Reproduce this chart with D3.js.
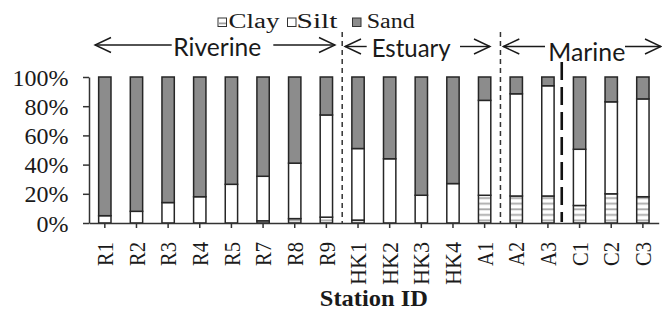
<!DOCTYPE html>
<html>
<head>
<meta charset="utf-8">
<script src="https://cdn.jsdelivr.net/npm/d3@7"></script>
<style>
  html, body { margin: 0; padding: 0; background: #fff; }
  svg { display: block; }
</style>
</head>
<body>
<svg id="chart" width="662" height="310"></svg>
<script>
// ---- data (percent) ----
const stations = ["R1","R2","R3","R4","R5","R7","R8","R9","HK1","HK2","HK3","HK4","A1","A2","A3","C1","C2","C3"];
const clay = [0, 0, 0, 0, 0, 1.5, 3, 4, 2, 0, 0, 0, 19, 18.5, 18.5, 12, 20, 18];
const silt = [5, 8, 14, 18, 26.5, 30.5, 38, 70, 49, 44, 19, 27, 65, 70, 75.5, 38.5, 63, 67];
const sand = [95, 92, 86, 82, 73.5, 68, 59, 26, 49, 56, 81, 73, 16, 11.5, 6, 49.5, 17, 15];
const seriesNames = ["Clay", "Silt", "Sand"];
const yTicks = [0, 20, 40, 60, 80, 100];
const regions = ["Riverine", "Estuary", "Marine"];
const xTitle = "Station ID";

const table = stations.map((s, i) => ({ station: s, Clay: clay[i], Silt: silt[i], Sand: sand[i] }));

const svg = d3.select("#chart");
const mLeft = 89, mRight = 658.7, mTop = 77, mBottom = 223;
const serif = "'Liberation Serif', 'Times New Roman', Times, serif";

const x = d3.scaleBand().domain(stations).range([mLeft, mRight]).paddingInner(0.61).paddingOuter(0.305);
const y = d3.scaleLinear().domain([0, 100]).range([mBottom, mTop]);

// pattern for clay
const defs = svg.append("defs");
const pat = defs.append("pattern").attr("id", "clayPat").attr("patternUnits", "userSpaceOnUse")
  .attr("x", 0).attr("y", mBottom).attr("width", 6).attr("height", 5.6);
pat.append("rect").attr("width", 6).attr("height", 5.6).attr("fill", "#fff");
pat.append("rect").attr("y", 2.2).attr("width", 6).attr("height", 1.8).attr("fill", "#a8a8a8");

const fills = { Clay: "url(#clayPat)", Silt: "#ffffff", Sand: "#8c8c8c" };

// stacked bars
const stack = d3.stack().keys(seriesNames);
const layers = stack(table);
svg.append("g").selectAll("g").data(layers).join("g")
  .attr("fill", d => fills[d.key])
  .selectAll("rect").data(d => d).join("rect")
  .attr("x", d => x(d.data.station))
  .attr("width", x.bandwidth())
  .attr("y", d => y(d[1]))
  .attr("height", d => Math.max(0, y(d[0]) - y(d[1])))
  .attr("stroke", "#262626").attr("stroke-width", 1.5)
  .attr("stroke-opacity", d => (d[1] - d[0]) > 0 ? 1 : 0);

// y axis
const yAxis = svg.append("g").attr("transform", `translate(${mLeft},0)`)
  .call(d3.axisLeft(y).tickValues(yTicks).tickFormat(d => d + "%").tickSize(6).tickSizeOuter(0).tickPadding(14.5));
yAxis.select(".domain").attr("stroke", "#333").attr("stroke-width", 1.5);
yAxis.selectAll(".tick line").attr("stroke", "#333").attr("stroke-width", 1.5);
yAxis.selectAll("text").attr("font-family", serif)
  .attr("font-size", 24).attr("fill", "#1a1a1a").attr("dy", "0.34em");

// x axis
const xAxis = svg.append("g").attr("transform", `translate(0,${mBottom})`)
  .call(d3.axisBottom(x).tickSize(5).tickSizeOuter(0));
xAxis.select(".domain").attr("stroke", "#333").attr("stroke-width", 1.5);
xAxis.selectAll(".tick line").attr("stroke", "#333").attr("stroke-width", 1.5);
xAxis.selectAll("text")
  .attr("font-family", serif)
  .attr("font-size", 24).attr("fill", "#1a1a1a")
  .attr("transform", "rotate(-90)")
  .attr("text-anchor", "end")
  .attr("x", -19).attr("y", 0).attr("dy", "0.34em")
  .attr("textLength", d => d.length > 2 ? 43 : 24)
  .attr("lengthAdjust", "spacingAndGlyphs");

// x title
svg.append("text").attr("x", (mLeft + mRight) / 2).attr("y", 306)
  .attr("text-anchor", "middle")
  .attr("font-family", serif)
  .attr("font-weight", "bold").attr("font-size", 24).attr("fill", "#1a1a1a")
  .attr("textLength", 108).attr("lengthAdjust", "spacingAndGlyphs")
  .text(xTitle);

// legend
const legX = [218, 287.5, 352.5];
const legTextX = [228.5, 296.5, 366.7];
const legLen = [51, 41, 48];
const leg = svg.append("g");
seriesNames.forEach((k, i) => {
  if (k === "Clay") {
    leg.append("rect").attr("x", legX[i]).attr("y", 18).attr("width", 8.5).attr("height", 8.5)
      .attr("fill", "#fff").attr("stroke", "#333").attr("stroke-width", 1);
    leg.append("rect").attr("x", legX[i] + 0.5).attr("y", 22.5).attr("width", 7.5).attr("height", 1.8).attr("fill", "#a0a0a0");
  } else {
    leg.append("rect").attr("x", legX[i]).attr("y", 18).attr("width", 8.5).attr("height", 8.5)
      .attr("fill", fills[k]).attr("stroke", "#333").attr("stroke-width", 1);
  }
  leg.append("text").attr("x", legTextX[i]).attr("y", 27.8)
    .attr("font-family", serif)
    .attr("font-size", 20).attr("fill", "#1a1a1a")
    .attr("textLength", legLen[i]).attr("lengthAdjust", "spacingAndGlyphs")
    .text(k);
});

// separators
const step = x.step();
const gap = step - x.bandwidth();
const bnd1 = x("HK1") - gap / 2;
const bnd2 = x("A2") - gap / 2;
const bnd3 = x("C1") - gap / 2 - 2;
[bnd1, bnd2].forEach(b => {
  svg.append("line").attr("x1", b).attr("x2", b).attr("y1", 32).attr("y2", 223)
    .attr("stroke", "#333").attr("stroke-width", 1.5).attr("stroke-dasharray", "5,4");
});
svg.append("line").attr("x1", bnd3).attr("x2", bnd3).attr("y1", 62).attr("y2", 222)
  .attr("stroke", "#111").attr("stroke-width", 2.6).attr("stroke-dasharray", "18,7");

// region arrows
const arrows = svg.append("g").attr("stroke", "#1a1a1a").attr("stroke-width", 1.4).attr("fill", "none");
function arrow(x1, x2, yy, headAt) {
  arrows.append("line").attr("x1", x1).attr("x2", x2).attr("y1", yy).attr("y2", yy);
  const hx = headAt === "left" ? x1 : x2;
  const dir = headAt === "left" ? 1 : -1;
  arrows.append("path").attr("d", `M${hx + dir * 16},${yy - 7.5} L${hx},${yy} L${hx + dir * 16},${yy + 7.5}`);
}
const regionSpec = [
  { name: regions[0], a: [95, 171.7], t: [173.3, 88], b: [273.3, 335], yy: 45, by: 56 },
  { name: regions[1], a: [345, 366.7], t: [371.7, 79], b: [460, 490], yy: 46.5, by: 56.5 },
  { name: regions[2], a: [503.3, 545], t: [548.3, 77], b: [625, 661], yy: 46.5, by: 61 }
];
regionSpec.forEach(r => {
  arrow(r.a[0], r.a[1], r.yy, "left");
  arrow(r.b[0], r.b[1], r.yy, "right");
  svg.append("text").attr("x", r.t[0]).attr("y", r.by)
    .attr("font-family", "Lato, 'Open Sans', sans-serif").attr("font-size", 24.5).attr("fill", "#1a1a1a")
    .attr("textLength", r.t[1]).attr("lengthAdjust", "spacingAndGlyphs")
    .text(r.name);
});
</script>
</body>
</html>
